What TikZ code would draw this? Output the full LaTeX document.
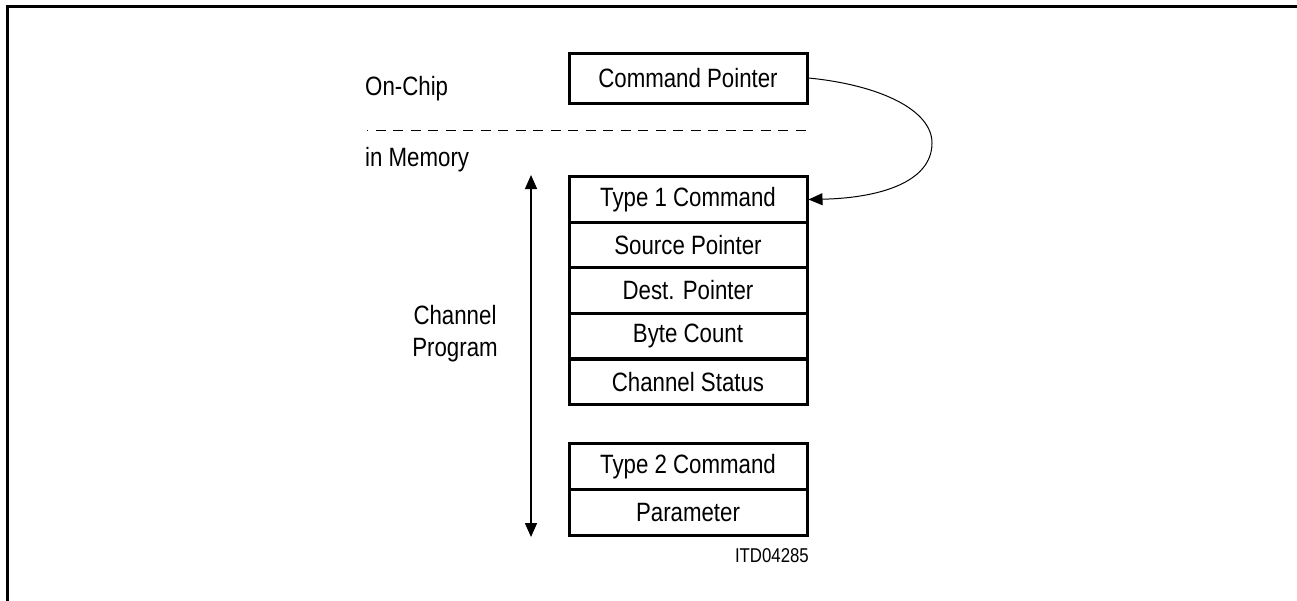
\documentclass[tikz,border=0pt]{standalone}
\usepackage{fontspec}
\setmainfont[FakeStretch=0.84]{Liberation Sans}
\usetikzlibrary{arrows.meta}
\begin{document}
\begin{tikzpicture}[x=1pt,y=-1pt,
  cell/.style={draw,line width=3pt,minimum width=238pt,minimum height=45.7pt,inner sep=0pt,
    font=\fontsize{26.5}{32}\selectfont},
  lbl/.style={anchor=west,inner sep=0pt,font=\fontsize{26.5}{32}\selectfont},
  tip/.style={-{Triangle[length=14pt,width=12pt]}}]
\useasboundingbox (0,0) rectangle (1297,600);
\draw[line width=3pt] (7,610) -- (7,6) -- (1310,6);
% labels
\node[lbl] (onchip) at (365,89) {On-Chip};
\node[lbl] (inmem) at (365,160) {in Memory};
\node[lbl,align=center,anchor=center] (chprog) at (455,334) {Channel\\Program};
% dashed separator
\coordinate (dl) at (367,130);
\coordinate (dr) at (807,130);
\draw[line width=1pt,dash pattern=on 10pt off 7.5pt,dash phase=9pt] (dl) -- (dr);
% boxes
\node[cell,minimum height=50pt] (cp) at (688,78) {Command Pointer};
\node[cell] (t1) at (688,199.5) {Type 1 Command};
\node[cell] (sp) at (688,245) {Source Pointer};
\node[cell] (dp) at (688,290.5) {Dest. Pointer};
\node[cell] (bc) at (688,336) {Byte Count};
\node[cell] (cs) at (688,382) {Channel Status};
\node[cell] (t2) at (688,466.5) {Type 2 Command};
\node[cell] (pa) at (688,512.5) {Parameter};
\node[anchor=east,inner sep=0pt,font=\fontsize{20}{24}\selectfont] (id) at (809,556) {ITD04285};
% vertical double arrow
\coordinate (vt) at (531,175);
\coordinate (vb) at (531,537);
\draw[line width=1.5pt,{Triangle[length=14pt,width=12pt]}-{Triangle[length=14pt,width=12pt]}] (vt) -- (vb);
% curved pointer
\draw[line width=1pt,tip] (cp.east) .. controls (880,85) and (932,110) .. (932,143)
  .. controls (932,182) and (880,198) .. (t1.east);
\end{tikzpicture}
\end{document}
